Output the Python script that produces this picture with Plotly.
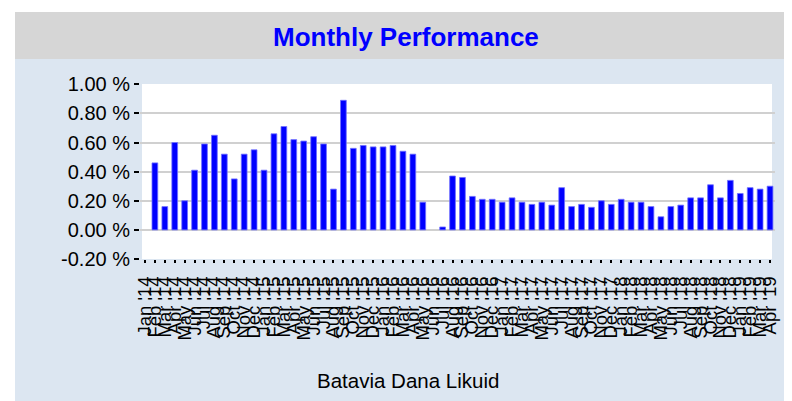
import plotly.graph_objects as go

month_names = ["Jan", "Feb", "Mar", "Apr", "May", "Jun",
               "Jul", "Aug", "Sep", "Oct", "Nov", "Dec"]
years = ["14", "15", "16", "17", "18", "19"]
categories = [f"{m} '{y}" for y in years for m in month_names][:64]  # Jan '14 .. Apr '19

# Monthly performance (%)
performance = [
    None, 0.46, 0.16, 0.60, 0.20, 0.41, 0.59, 0.65, 0.52, 0.35, 0.52, 0.55,   # 2014
    0.41, 0.66, 0.71, 0.62, 0.61, 0.64, 0.59, 0.28, 0.89, 0.56, 0.58, 0.57,   # 2015
    0.57, 0.58, 0.54, 0.52, 0.19, None, 0.02, 0.37, 0.36, 0.23, 0.21, 0.21,   # 2016
    0.19, 0.22, 0.19, 0.175, 0.19, 0.17, 0.29, 0.16, 0.175, 0.155, 0.20, 0.175,  # 2017
    0.21, 0.19, 0.19, 0.16, 0.09, 0.16, 0.17, 0.22, 0.22, 0.31, 0.22, 0.34,   # 2018
    0.25, 0.29, 0.28, 0.30,                                                   # 2019
]

y_tick_values = [-0.2, 0.0, 0.2, 0.4, 0.6, 0.8, 1.0]
y_tick_labels = ["-0.20 %", "0.00 %", "0.20 %", "0.40 %", "0.60 %", "0.80 %", "1.00 %"]

chart_title = "Monthly Performance"
series_name = "Batavia Dana Likuid"

FONT = "Liberation Sans, Arial, sans-serif"
OFF = 8  # page body margin: figure is drawn at (8, 8) in the window
W, H = 792 - OFF, 401 - OFF
# plot area in window pixels: x 140..780, y 84..259
L, R, T, B = 140 - OFF, W - (780 - OFF), 84 - OFF, H - (259 - OFF)
pw, ph = W - L - R, H - T - B


def px_x(x):
    """window pixel x -> paper x"""
    return (x - OFF - L) / pw


def px_y(y):
    """window pixel y -> paper y"""
    return (H - B - (y - OFF)) / ph


fig = go.Figure()
fig.add_trace(go.Bar(
    x=categories, y=performance, name=series_name,
    marker=dict(color="#0000ff", line=dict(color="#7070ff", width=0.8)),
))

shapes = [
    # light blue panel
    dict(type="rect", xref="paper", yref="paper", layer="below",
         x0=px_x(14), x1=px_x(800), y0=px_y(410), y1=px_y(59),
         fillcolor="#dce6f1", line=dict(width=0)),
    # grey title band
    dict(type="rect", xref="paper", yref="paper", layer="below",
         x0=px_x(14), x1=px_x(800), y0=px_y(59), y1=px_y(12),
         fillcolor="#d6d6d6", line=dict(width=0)),
    # white plot area
    dict(type="rect", xref="paper", yref="paper", layer="below",
         x0=px_x(142), x1=px_x(777), y0=0, y1=1,
         fillcolor="#ffffff", line=dict(width=0)),
]

annotations = [
    dict(text=f"<b>{chart_title}</b>", xref="paper", yref="paper",
         x=px_x(408), y=px_y(37), xanchor="center", yanchor="middle",
         showarrow=False, font=dict(family=FONT, size=26, color="#0000ff")),
    dict(text=series_name, xref="paper", yref="paper",
         x=px_x(410), y=px_y(380), xanchor="center", yanchor="middle",
         showarrow=False, font=dict(family=FONT, size=20.5, color="#000000")),
]

fig.update_layout(
    width=W, height=H,
    margin=dict(l=L, r=R, t=T, b=B, pad=0),
    paper_bgcolor="#ffffff",
    plot_bgcolor="rgba(0,0,0,0)",
    showlegend=False,
    bargap=0.42,
    shapes=shapes,
    annotations=annotations,
    font=dict(family=FONT, color="#000000"),
)

fig.update_xaxes(
    type="category", categoryorder="array", categoryarray=categories,
    range=[-0.5, len(categories) - 0.5],
    tickmode="linear", tick0=0, dtick=1,
    tickangle=-90, tickfont=dict(family=FONT, size=18.5, color="#000000"),
    ticks="outside", ticklen=3, tickwidth=2, tickcolor="#000000",
    ticklabelstandoff=6,
    showgrid=False, showline=False, zeroline=False,
)

fig.update_yaxes(
    range=[-0.2, 1.002],
    tickvals=y_tick_values, ticktext=y_tick_labels,
    tickfont=dict(family=FONT, size=20, color="#000000"),
    ticks="outside", ticklen=5, tickwidth=2, tickcolor="#000000",
    showgrid=True, gridcolor="#d0d0d0", gridwidth=2,
    zeroline=True, zerolinecolor="#d0d0d0", zerolinewidth=2,
    showline=False,
)

fig.write_html("out.html")
